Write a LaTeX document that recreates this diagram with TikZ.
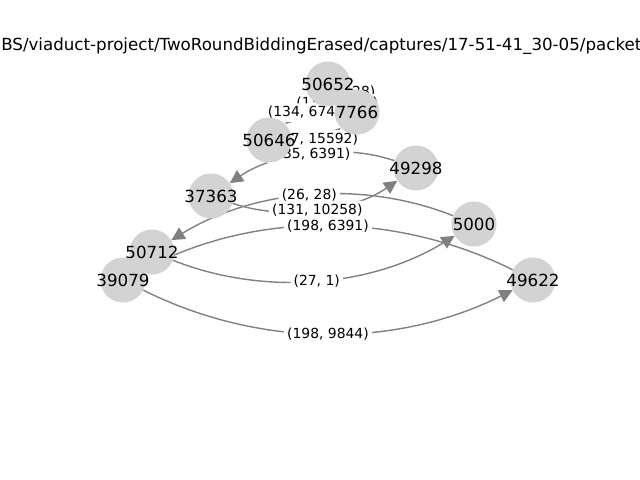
\documentclass[tikz,border=0pt]{standalone}
\usepackage{fontspec}
\setmainfont{DejaVu Sans}
\usetikzlibrary{arrows.meta, calc}
\definecolor{nodegray}{HTML}{D3D3D3}
\definecolor{flowgray}{HTML}{808080}
\pgfdeclarelayer{edges}
\pgfdeclarelayer{labels}
\pgfsetlayers{edges,labels,main}

\begin{document}
\begin{tikzpicture}[x=0.72pt, y=-0.72pt,
        main/.style = {circle, fill=nodegray, minimum size=32.4pt, inner sep=0pt, font=\fontsize{12}{14}\selectfont,
            execute at begin node={\hbox to 0pt\bgroup\hss}, execute at end node={\hss\egroup}},
        flow/.style = {draw=flowgray, line width=1pt, -{Triangle[length=9.5pt, width=9.5pt]},
            to path={.. controls ($(\tikztostart)!0.3727!-26.57:(\tikztotarget)$) and ($(\tikztotarget)!0.3727!26.57:(\tikztostart)$) .. (\tikztotarget) \tikztonodes}},
        weight/.style = {fill=white, rounded corners=2pt, inner sep=2.2pt, font=\fontsize{10}{12}\selectfont}]
        \useasboundingbox (0,0) rectangle (640,480);
        \node[anchor=base west, inner sep=0pt, font=\fontsize{12}{14}\selectfont] (title) at (1,50) {BS/viaduct-project/TwoRoundBiddingErased/captures/17-51-41\_30-05/packet};

        \node[main] (n50652) at (328,84) {50652};
        \node[main] (n7766) at (357,112) {7766};
        \node[main] (n50646) at (269,140) {50646};
        \node[main] (n49298) at (416,168) {49298};
        \node[main] (n37363) at (211,196) {37363};
        \node[main] (n5000) at (474,224) {5000};
        \node[main] (n50712) at (152,252) {50712};
        \node[main] (n39079) at (123,280) {39079};
        \node[main] (n49622) at (533,280) {49622};

        \begin{pgfonlayer}{edges}
        \draw[flow] (n7766) to coordinate[midway] (w1) (n50652);
        \draw[flow] (n50652) to coordinate[midway] (w2) (n7766);
        \draw[flow] (n7766) to coordinate[midway] (w3) (n50646);
        \draw[flow] (n50646) to coordinate[midway] (w4) (n7766);
        \draw[flow] (n49298) to coordinate[midway] (w5) (n37363);
        \draw[flow] (n5000) to coordinate[midway] (w6) (n50712);
        \draw[flow] (n37363) to coordinate[midway] (w7) (n49298);
        \draw[flow] (n49622) to coordinate[midway] (w8) (n39079);
        \draw[flow] (n50712) to coordinate[midway] (w9) (n5000);
        \draw[flow] (n39079) to coordinate[midway] (w10) (n49622);
        \end{pgfonlayer}

        \begin{pgfonlayer}{labels}
        \node[weight] (l1) at (w1) {(26, 28)};
        \node[weight] (l2) at (w2) {(135, 6740)};
        \node[weight] (l3) at (w3) {(134, 6740)};
        \node[weight] (l4) at (w4) {(37, 15592)};
        \node[weight] (l5) at (w5) {(135, 6391)};
        \node[weight] (l6) at (w6) {(26, 28)};
        \node[weight] (l7) at (w7) {(131, 10258)};
        \node[weight] (l8) at (w8) {(198, 6391)};
        \node[weight] (l9) at (w9) {(27, 1)};
        \node[weight] (l10) at (w10) {(198, 9844)};
        \end{pgfonlayer}
    \end{tikzpicture}
\end{document}
